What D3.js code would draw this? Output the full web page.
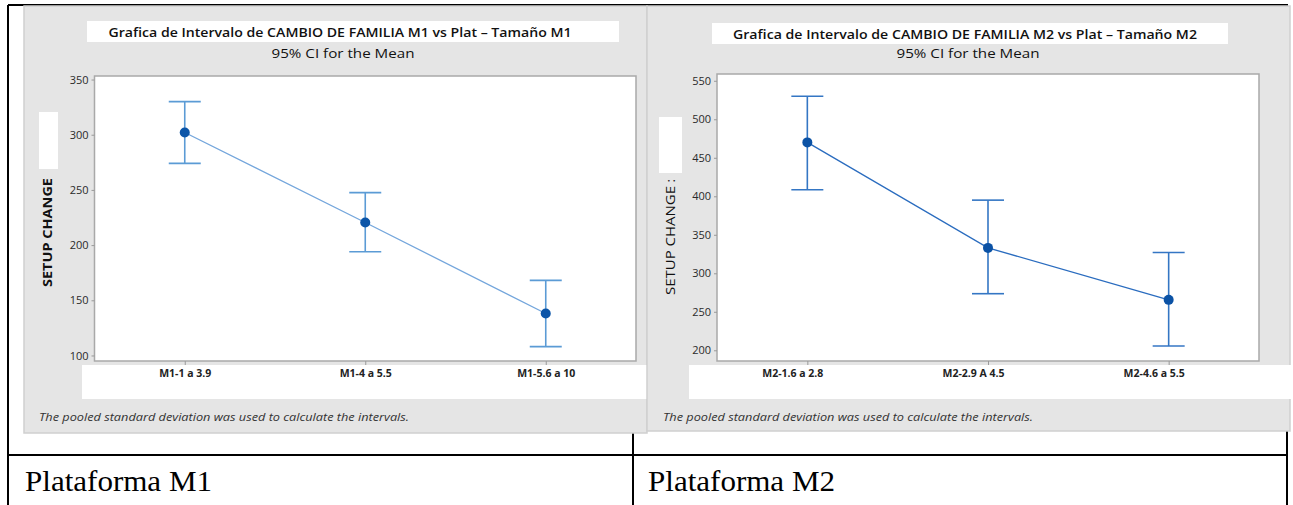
<!DOCTYPE html>
<html><head><meta charset="utf-8">
<script src="https://cdnjs.cloudflare.com/ajax/libs/d3/7.8.5/d3.min.js"></script>
<style>html,body{margin:0;padding:0;background:#fff;}svg{display:block;}</style>
</head><body>
<svg id="c" width="1293" height="505"></svg>
<script>
// ---------- data ----------
const cats1 = ["M1-1 a 3.9", "M1-4 a 5.5", "M1-5.6 a 10"];
const mean1 = [302, 220.5, 138];
const lower1 = [274, 194, 108];
const upper1 = [330, 247.5, 168];
const ticks1 = [100, 150, 200, 250, 300, 350];

const cats2 = ["M2-1.6 a 2.8", "M2-2.9 A 4.5", "M2-4.6 a 5.5"];
const mean2 = [470, 333, 265.5];
const lower2 = [408.5, 273.5, 205.5];
const upper2 = [530, 395, 327];
const ticks2 = [200, 250, 300, 350, 400, 450, 500, 550];

const titles = ["Grafica de Intervalo de CAMBIO DE FAMILIA M1 vs Plat \u2013 Tama\u00f1o M1",
                "Grafica de Intervalo de CAMBIO DE FAMILIA M2 vs Plat \u2013 Tama\u00f1o M2"];
const subtitle = "95% CI for the Mean";
const footnote = "The pooled standard deviation was used to calculate the intervals.";
const cellLabels = ["Plataforma M1", "Plataforma M2"];

// ---------- drawing ----------
const svg = d3.select("#c");
const FONT = "'Open Sans', 'Noto Sans', sans-serif";

// table borders
const tbl = svg.append("g").attr("stroke", "#000").attr("stroke-width", 2);
tbl.append("line").attr("x1", 8).attr("x2", 1288).attr("y1", 5).attr("y2", 5);
tbl.append("line").attr("x1", 8).attr("x2", 8).attr("y1", 5).attr("y2", 505);
tbl.append("line").attr("x1", 633).attr("x2", 633).attr("y1", 5).attr("y2", 505);
tbl.append("line").attr("x1", 1287).attr("x2", 1287).attr("y1", 5).attr("y2", 505);
tbl.append("line").attr("x1", 8).attr("x2", 1288).attr("y1", 455).attr("y2", 455);

cellLabels.forEach((t, i) => {
  svg.append("text").attr("x", i === 0 ? 25 : 648).attr("y", 491)
    .attr("font-family", "'Liberation Serif', 'DejaVu Serif', serif")
    .attr("font-size", 29).attr("fill", "#000")
    .attr("textLength", 187).attr("lengthAdjust", "spacingAndGlyphs")
    .text(t);
});

const cfgs = [
  {cats: cats1, mean: mean1, lower: lower1, upper: upper1, ticks: ticks1, domain: [95, 353.2],
   panel: [24, 6, 623, 427], titleBox: [87, 21, 532, 21], titleX: 340, titleLen: 463,
   plot: [94.5, 76, 636, 361], xBox: [82, 365, 565, 34], labelDx: 0,
   yTitleX: 52, yTitleBottom: 287, yTitleBold: true, yTitleText: "SETUP CHANGE", yTitleExtra: "",
   whiteRect: [39, 112, 19, 57], footX: 39,
   lineColor: "#74a6dc", barColor: "#5b9bd5", dotColor: "#0b55a8"},
  {cats: cats2, mean: mean2, lower: lower2, upper: upper2, ticks: ticks2, domain: [186.1, 558.8],
   panel: [647, 6, 643, 425], titleBox: [712, 23, 516, 21], titleX: 965, titleLen: 464,
   plot: [717, 74, 1259, 361], xBox: [689, 365, 604, 34], labelDx: -15,
   yTitleX: 675, yTitleBottom: 295, yTitleBold: false, yTitleText: "SETUP CHANGE", yTitleExtra: " :",
   whiteRect: [659, 117, 23, 56], footX: 663,
   lineColor: "#2a6cbf", barColor: "#3476c4", dotColor: "#0b52a5"}
];

cfgs.forEach((c, k) => {
  const g = svg.append("g");
  // panel
  g.append("rect").attr("x", c.panel[0]).attr("y", c.panel[1]).attr("width", c.panel[2]).attr("height", c.panel[3])
    .attr("fill", "#e5e5e5").attr("stroke", "#cfcfcf").attr("stroke-width", 1.5);
  // title box
  g.append("rect").attr("x", c.titleBox[0]).attr("y", c.titleBox[1]).attr("width", c.titleBox[2]).attr("height", c.titleBox[3])
    .attr("fill", "#fff");
  g.append("text").attr("x", c.titleX).attr("y", c.titleBox[1] + 15.5).attr("text-anchor", "middle")
    .attr("font-family", FONT).attr("font-size", 12.5).attr("font-weight", 600).attr("fill", "#111")
    .attr("textLength", c.titleLen).attr("lengthAdjust", "spacingAndGlyphs").text(titles[k]);
  g.append("text").attr("x", c.titleX + 3).attr("y", 58).attr("text-anchor", "middle")
    .attr("font-family", FONT).attr("font-size", 12.5).attr("fill", "#111")
    .attr("textLength", 143).attr("lengthAdjust", "spacingAndGlyphs").text(subtitle);

  const [x0, y0, x1, y1] = c.plot;
  const x = d3.scalePoint().domain(c.cats).range([x0, x1]).padding(0.5);
  const y = d3.scaleLinear().domain(c.domain).range([y1, y0]);

  // plot area
  g.append("rect").attr("x", x0).attr("y", y0).attr("width", x1 - x0).attr("height", y1 - y0)
    .attr("fill", "#fff").attr("stroke", "#a9a9a9").attr("stroke-width", 1.5);

  // y axis
  const ya = g.append("g").attr("transform", `translate(${x0},0)`)
    .call(d3.axisLeft(y).tickValues(c.ticks).tickSize(3).tickPadding(3));
  ya.select(".domain").remove();
  ya.selectAll("line").attr("stroke", "#9a9a9a");
  ya.selectAll("text").attr("font-family", FONT).attr("font-size", 11).attr("fill", "#2a2a2a");

  // x label white box
  g.append("rect").attr("x", c.xBox[0]).attr("y", c.xBox[1]).attr("width", c.xBox[2]).attr("height", c.xBox[3])
    .attr("fill", "#fff");
  const xa = g.append("g").attr("transform", `translate(0,${y1})`)
    .call(d3.axisBottom(x).tickSize(4).tickPadding(5));
  xa.select(".domain").remove();
  xa.selectAll("line").attr("stroke", "#9a9a9a");
  xa.selectAll("text").attr("font-family", FONT).attr("font-size", 10.5).attr("font-weight", 700)
    .attr("fill", "#222").attr("dx", c.labelDx);

  // y title
  const yt = g.append("text")
    .attr("transform", `translate(${c.yTitleX},${c.yTitleBottom}) rotate(-90)`)
    .attr("font-family", FONT).attr("font-size", 13).attr("font-weight", c.yTitleBold ? 700 : 400).attr("fill", "#111");
  yt.append("tspan").attr("textLength", 109).attr("lengthAdjust", "spacingAndGlyphs").text(c.yTitleText);
  if (c.yTitleExtra) yt.append("tspan").text(c.yTitleExtra);
  g.append("rect").attr("x", c.whiteRect[0]).attr("y", c.whiteRect[1]).attr("width", c.whiteRect[2]).attr("height", c.whiteRect[3])
    .attr("fill", "#fff");

  // footnote
  g.append("text").attr("x", c.footX).attr("y", 421)
    .attr("font-family", FONT).attr("font-size", 10).attr("font-style", "italic").attr("fill", "#333")
    .attr("textLength", 370).attr("lengthAdjust", "spacingAndGlyphs").text(footnote);

  // data
  const idx = d3.range(c.cats.length);
  g.append("path").datum(idx)
    .attr("d", d3.line().x(i => x(c.cats[i])).y(i => y(c.mean[i])))
    .attr("fill", "none").attr("stroke", c.lineColor).attr("stroke-width", 1.3);
  const eb = g.append("g").attr("stroke", c.barColor).attr("stroke-width", 1.6);
  idx.forEach(i => {
    const cx = x(c.cats[i]);
    eb.append("line").attr("x1", cx).attr("x2", cx).attr("y1", y(c.lower[i])).attr("y2", y(c.upper[i]));
    eb.append("line").attr("x1", cx - 16).attr("x2", cx + 16).attr("y1", y(c.upper[i])).attr("y2", y(c.upper[i]));
    eb.append("line").attr("x1", cx - 16).attr("x2", cx + 16).attr("y1", y(c.lower[i])).attr("y2", y(c.lower[i]));
  });
  g.selectAll("circle.m").data(idx).enter().append("circle")
    .attr("cx", i => x(c.cats[i])).attr("cy", i => y(c.mean[i])).attr("r", 5)
    .attr("fill", c.dotColor);
});
</script>
</body></html>
